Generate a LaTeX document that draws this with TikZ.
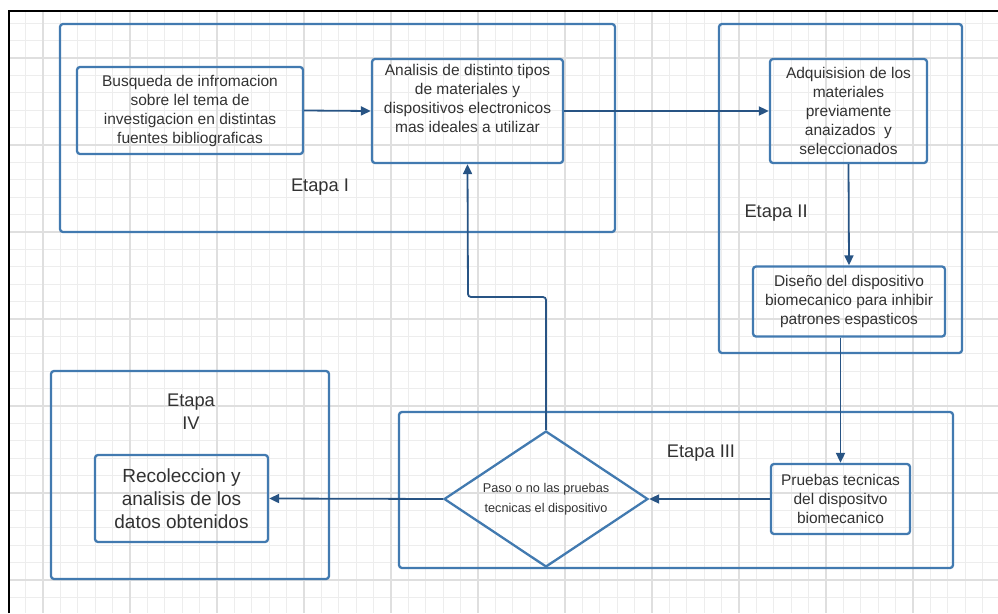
\documentclass[tikz,border=0pt]{standalone}
\usepackage{fontspec}
\setmainfont{Liberation Sans}
\usetikzlibrary{shapes.geometric,arrows.meta}
\definecolor{stageblue}{RGB}{66,122,176}
\definecolor{linkblue}{RGB}{40,84,132}
\definecolor{gridminor}{RGB}{237,237,237}
\definecolor{gridmajor}{RGB}{223,223,223}
\definecolor{txtgray}{RGB}{50,50,50}

\begin{document}
\begin{tikzpicture}[x=1pt, y=-1pt,
    stagebox/.style={draw=stageblue, line width=2.3pt, rounded corners=3pt, inner sep=0pt},
    stepbox/.style={draw=stageblue, line width=2.3pt, rounded corners=3pt, inner sep=0pt,
        align=center, text=txtgray, font=\fontsize{15.5}{19}\selectfont},
    stagelabel/.style={align=center, text=txtgray, font=\fontsize{18.3}{23}\selectfont},
    flow/.style={draw=linkblue, line width=1.8pt, rounded corners=3pt,
        -{Triangle[length=10pt,width=9pt]}}]
    \useasboundingbox (0,0) rectangle (998,613);
    % background grid
    \begin{scope}
        \clip (9,11) rectangle (998,613);
        \foreach \i in {0,...,57} \draw[gridminor, line width=1pt] ({8.2+17.4*\i},11) -- ++(0,602);
        \foreach \i in {0,...,35} \draw[gridminor, line width=1pt] (9,{5.8+17.4*\i}) -- ++(989,0);
        \foreach \i in {0,...,11} \draw[gridmajor, line width=1.2pt] ({43+87*\i},11) -- ++(0,602);
        \foreach \i in {0,...,6} \draw[gridmajor, line width=1.2pt] (9,{58+87*\i}) -- ++(989,0);
    \end{scope}
    \draw[line width=2pt] (9,613) -- (9,11) -- (998,11);

    % stages
    \node[stagebox, minimum width=555pt, minimum height=208pt] (etapa1) at (337.5,128) {};
    \node[stagebox, minimum width=243pt, minimum height=329pt] (etapa2) at (840.5,188.5) {};
    \node[stagebox, minimum width=554pt, minimum height=156pt] (etapa3) at (676,490) {};
    \node[stagebox, minimum width=278pt, minimum height=208pt] (etapa4) at (190,475) {};
    \node[stagelabel] (lab1) at (320,187) {Etapa I};
    \node[stagelabel, anchor=west] (lab2) at (741,213) {Etapa II};
    \node[stagelabel] (lab3) at (701,453) {Etapa III};
    \node[stagelabel] (lab4) at (191,412) {Etapa\\IV};

    % steps
    \node[stepbox, minimum width=226pt, minimum height=87pt] (busq) at (190,110.5)
        {Busqueda de infromacion\\sobre lel tema de\\investigacion en distintas\\fuentes bibliograficas};
    \node[stepbox, minimum width=191pt, minimum height=104pt] (anal) at (467.5,111)
        {Analisis de distinto tipos\\de materiales y\\dispositivos electronicos\\mas ideales a utilizar\\\strut};
    \node[stepbox, minimum width=157pt, minimum height=104pt] (adq) at (848.5,111)
        {Adquisision de los\\materiales\\previamente\\anaizados\ \ y\\seleccionados};
    \node[stepbox, minimum width=192pt, minimum height=70pt] (dise) at (849,301.5)
        {Diseño del dispositivo\\biomecanico para inhibir\\patrones espasticos};
    \node[stepbox, minimum width=139pt, minimum height=70pt] (prueb) at (840.5,499)
        {Pruebas tecnicas\\del dispositvo\\biomecanico};
    \node[stepbox, diamond, aspect=1.5, rounded corners=0pt, minimum width=204pt, minimum height=136pt,
        font=\fontsize{12.7}{20}\selectfont] (paso) at (546,499)
        {Paso o no las pruebas\\tecnicas el dispositivo};
    \node[stepbox, minimum width=173pt, minimum height=87pt,
        font=\fontsize{19}{23}\selectfont] (recol) at (181.5,498.5)
        {Recoleccion y\\analisis de los\\datos obtenidos};

    % connectors
    \coordinate (vuelta) at (468,297);
    \draw[flow] (busq.east) -- (anal.west);
    \draw[flow] (anal.east) -- (adq.west);
    \draw[flow] (adq.south) -- (dise.north);
    \draw[flow] (dise.south -| prueb.north) -- (prueb.north);
    \draw[flow] (prueb.west) -- (paso.east);
    \draw[flow] (paso.west) -- (recol.east);
    \draw[flow] (paso.north) |- (vuelta) -- (anal.south);
\end{tikzpicture}
\end{document}
